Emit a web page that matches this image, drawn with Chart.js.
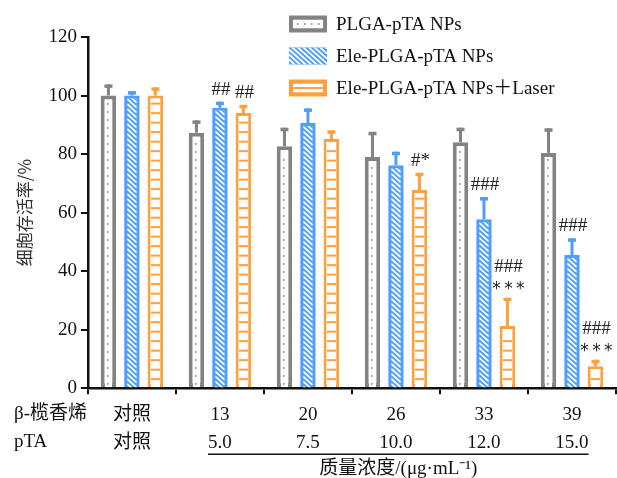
<!DOCTYPE html>
<html>
<head>
<meta charset="utf-8">
<script src="https://cdn.jsdelivr.net/npm/chart.js@4"></script>
<style>
  html, body { margin: 0; padding: 0; background: #fff; }
  #wrap { width: 617px; height: 478px; position: relative; }
</style>
</head>
<body>
<div id="wrap"><canvas id="cell-chart"></canvas></div>
<script>
// categories: β-榄香烯 / pTA dose labels
var elemeneLabels = ['对照', '13', '20', '26', '33', '39'];
var ptaLabels = ['对照', '5.0', '7.5', '10.0', '12.0', '15.0'];

var plgaValues = [100, 87.3, 82.7, 79, 84, 80.4];
var plgaErrors = [3.8, 4.2, 6.3, 8.6, 5, 8.4];
var eleValues = [100, 95.8, 90.6, 76.2, 57.7, 45.5];
var eleErrors = [1.5, 2.1, 5, 4.6, 7.6, 5.7];
var laserValues = [100, 94, 85.1, 67.7, 21.2, 7.5];
var laserErrors = [2.8, 2.8, 3, 5.9, 9.7, 2.2];

// significance marks (lines drawn bottom-up above the error cap)
var plgaMarks = ['', '', '', '', '', ''];
var eleMarks = ['', '##', '', '', '###', '###'];
var laserMarks = ['', '##', '', '#*', '###\n***', '###\n***'];

var seriesNames = ['PLGA-pTA NPs', 'Ele-PLGA-pTA NPs', 'Ele-PLGA-pTA NPs\uFF0BLaser'];

var GRAY = '#838383', BLUE = '#4f9ffa', ORANGE = '#ffa03e';
var SERIF = '"Liberation Serif", "Times New Roman", "Noto Sans CJK SC", serif';

var styles = [
    { color: GRAY, border: 4, kind: 'dots' },
    { color: BLUE, border: 3, kind: 'hatch' },
    { color: ORANGE, border: 3, kind: 'ladder' }
];

function drawFill(ctx, kind, color, x0, y0, w, h, horizontal) {
    ctx.save();
    ctx.beginPath();
    ctx.rect(x0, y0, w, h);
    ctx.clip();
    if (kind === 'dots') {
        ctx.fillStyle = '#fff';
        ctx.fillRect(x0, y0, w, h);
        ctx.fillStyle = color;
        if (horizontal) {
            for (var dx = x0 + 4; dx < x0 + w - 1; dx += 7) ctx.fillRect(dx, y0 + h / 2 - 0.8, 1.6, 1.6);
        } else {
            var cx = x0 + w / 2 - 1.5;
            for (var dy = y0 + h - 4; dy > y0 + 1; dy -= 8) ctx.fillRect(cx, dy, 1.6, 1.6);
        }
    } else if (kind === 'hatch') {
        ctx.fillStyle = color;
        ctx.fillRect(x0, y0, w, h);
        ctx.strokeStyle = '#fff';
        ctx.lineWidth = 1.8;
        for (var s = -w - 10; s < h + 10; s += 5) {
            ctx.beginPath();
            ctx.moveTo(x0, y0 + s);
            ctx.lineTo(x0 + w, y0 + s + w * 0.9);
            ctx.stroke();
        }
    } else {
        ctx.fillStyle = '#fff';
        ctx.fillRect(x0, y0, w, h);
        ctx.fillStyle = color;
        if (horizontal) {
            ctx.fillRect(x0, y0 + h / 2 - 1, w, 2);
        } else {
            for (var ly = y0 + h - 9; ly > y0 + 2; ly -= 9.5) ctx.fillRect(x0, ly, w, 2);
        }
    }
    ctx.restore();
}

var decorPlugin = {
    id: 'decor',
    afterDatasetsDraw: function(chart) {
        var ctx = chart.ctx;
        var y = chart.scales.y;
        chart.data.datasets.forEach(function(ds, di) {
            var meta = chart.getDatasetMeta(di);
            var st = styles[di];
            meta.data.forEach(function(bar, i) {
                var p = bar.getProps(['x', 'y', 'base', 'width'], true);
                var left = p.x - p.width / 2;
                var b = st.border;
                drawFill(ctx, st.kind, st.color, left + b, p.y + b, p.width - 2 * b, p.base - p.y - b, false);

                // error bar (upper only) with cap
                var topPx = y.getPixelForValue(ds.data[i] + ds.errors[i]);
                ctx.fillStyle = st.color;
                ctx.fillRect(p.x - 1.5, topPx, 3, p.y - topPx);
                ctx.fillRect(p.x - 4, topPx, 8, 3.5);

                // significance marks
                var mark = ds.marks[i];
                if (mark) {
                    var lines = mark.split('\n').reverse();
                    ctx.fillStyle = '#222';
                    ctx.textAlign = 'center';
                    ctx.textBaseline = 'middle';
                    lines.forEach(function(t, k) {
                        var ty = topPx - 12 - k * 19;
                        if (/^\*+$/.test(t)) {
                            ctx.font = '17px "DejaVu Sans", sans-serif';
                            ctx.fillText(t.split('').join('\u2009'), p.x + 1, ty + 4);
                        } else {
                            ctx.font = '19px ' + SERIF;
                            ctx.fillText(t, p.x + 1, ty);
                        }
                    });
                }
            });
        });
    },
    afterDraw: function(chart) {
        var ctx = chart.ctx;
        var x = chart.scales.x;
        var area = chart.chartArea;

        // legend
        ctx.save();
        for (var k = 0; k < seriesNames.length; k++) {
            var st = styles[k];
            var cy = 24 + k * 32;
            var sx = 289, sw = 38, sh = 17;
            ctx.fillStyle = st.color;
            ctx.fillRect(sx, cy - sh / 2, sw, sh);
            var b = k === 1 ? 0 : 4;
            drawFill(ctx, st.kind, st.color, sx + b, cy - sh / 2 + b, sw - 2 * b, sh - 2 * b, true);
            ctx.fillStyle = '#111';
            ctx.font = '19px ' + SERIF;
            ctx.textAlign = 'left';
            ctx.textBaseline = 'middle';
            ctx.fillText(seriesNames[k], 336, cy + 1);
        }

        // row headers of the x labels
        ctx.fillStyle = '#111';
        ctx.font = '19px ' + SERIF;
        ctx.textAlign = 'left';
        ctx.textBaseline = 'middle';
        ctx.fillText('β-榄香烯', 14, area.bottom + 26);
        ctx.fillText('pTA', 14, area.bottom + 54);

        // bracket line under the dosed groups and axis title
        ctx.font = '19px ' + SERIF;
        var first = x.getPixelForValue(1) - ctx.measureText(ptaLabels[1]).width / 2;
        var last = x.getPixelForValue(5) + ctx.measureText(ptaLabels[5]).width / 2;
        ctx.strokeStyle = '#111';
        ctx.lineWidth = 1.5;
        ctx.beginPath();
        ctx.moveTo(first, area.bottom + 66);
        ctx.lineTo(last, area.bottom + 66);
        ctx.stroke();
        ctx.textAlign = 'center';
        ctx.fillText('质量浓度/(μg·mL⁻¹)', (first + last) / 2, area.bottom + 81);
        ctx.restore();
    }
};

var labels = elemeneLabels.map(function(e, i) { return [e, ptaLabels[i]]; });

new Chart(document.getElementById('cell-chart').getContext('2d'), {
    type: 'bar',
    data: {
        labels: labels,
        datasets: [
            { label: seriesNames[0], data: plgaValues, errors: plgaErrors, marks: plgaMarks,
              backgroundColor: '#fff', borderColor: GRAY, borderWidth: 4, borderSkipped: false },
            { label: seriesNames[1], data: eleValues, errors: eleErrors, marks: eleMarks,
              backgroundColor: BLUE, borderColor: BLUE, borderWidth: 3, borderSkipped: false },
            { label: seriesNames[2], data: laserValues, errors: laserErrors, marks: laserMarks,
              backgroundColor: '#fff', borderColor: ORANGE, borderWidth: 3, borderSkipped: false }
        ]
    },
    options: {
        responsive: true, maintainAspectRatio: false, animation: false,
        devicePixelRatio: 1,
        layout: { padding: { top: 37, right: 1, bottom: 14, left: 10 } },
        datasets: { bar: { categoryPercentage: 0.8, barPercentage: 0.66 } },
        plugins: { legend: { display: false }, tooltip: { enabled: false } },
        scales: {
            x: {
                z: 1,
                grid: { display: true, drawOnChartArea: false, tickLength: 6, tickColor: '#111', lineWidth: 2 },
                border: { display: true, color: '#111', width: 2.5 },
                ticks: { color: '#111', font: { family: SERIF, size: 19, lineHeight: 1.47 }, padding: 7, maxRotation: 0 }
            },
            y: {
                z: 1,
                min: 0, max: 120,
                grid: { display: true, drawOnChartArea: false, tickLength: 7, tickColor: '#111', lineWidth: 2 },
                border: { display: true, color: '#111', width: 2.5 },
                ticks: { stepSize: 20, color: '#111', font: { family: SERIF, size: 19 }, padding: 4 },
                title: { display: true, text: '细胞存活率/%', color: '#333', font: { family: '"Noto Sans CJK SC", sans-serif', size: 17 }, padding: { bottom: 10 } }
            }
        }
    },
    plugins: [decorPlugin]
});
</script>
</body>
</html>
